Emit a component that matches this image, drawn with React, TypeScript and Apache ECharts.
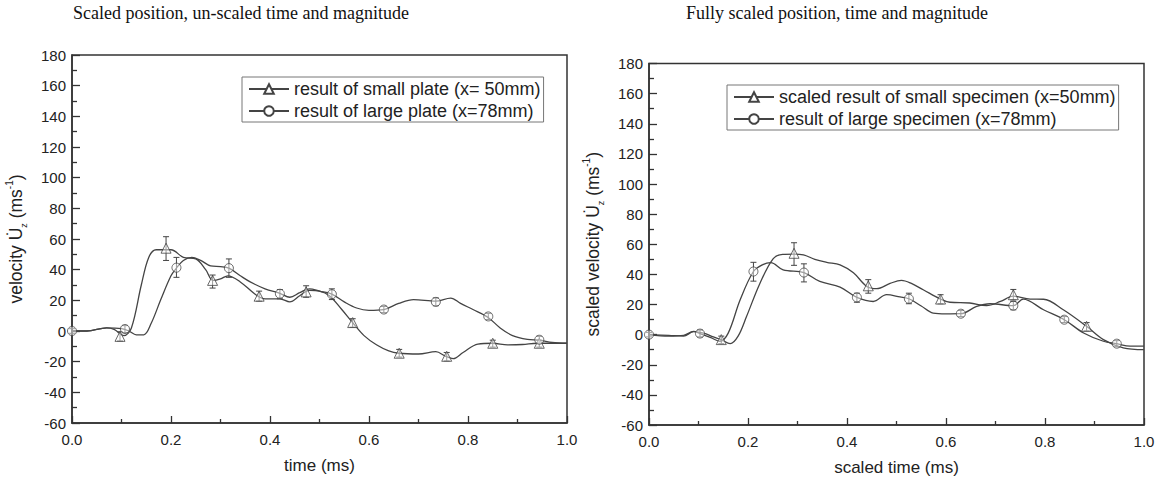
import React, { useEffect, useRef } from "react";
import * as echarts from "echarts";

// ---------- data ----------
const xTicks = [0, 0.2, 0.4, 0.6, 0.8, 1.0];
const yMin = -60;
const yMax = 180;

const leftTitle = "Scaled position, un-scaled time and magnitude";
const rightTitle = "Fully scaled position, time and magnitude";

const leftSmallName = "result of small plate (x= 50mm)";
const leftLargeName = "result of large plate (x=78mm)";
const rightSmallName = "scaled result of small specimen (x=50mm)";
const rightLargeName = "result of large specimen (x=78mm)";

// left plot, curves [time, velocity]
const leftSmallCurve: number[][] = [
  [0, 0], [0.03, 0], [0.07, 2], [0.085, 1], [0.105, -3], [0.12, 2], [0.14, 30],
  [0.155, 48], [0.17, 53], [0.2, 53], [0.225, 48], [0.25, 47], [0.27, 40],
  [0.285, 33], [0.3, 34], [0.315, 36], [0.34, 32], [0.37, 24], [0.39, 21],
  [0.42, 21], [0.44, 19], [0.46, 23], [0.48, 26.5], [0.5, 26], [0.52, 23],
  [0.545, 14], [0.567, 5.5], [0.59, -3], [0.615, -9], [0.64, -13], [0.66, -14.5],
  [0.7, -15], [0.735, -13.5], [0.755, -16.5], [0.77, -18], [0.79, -14],
  [0.82, -8.5], [0.85, -8], [0.88, -9], [0.91, -8.8], [0.94, -8], [1.0, -8],
];
const leftLargeCurve: number[][] = [
  [0, 0], [0.03, 0], [0.07, 2], [0.1, 1.5], [0.115, 0], [0.13, -2.5], [0.145, -2.5],
  [0.16, 5], [0.18, 21], [0.2, 36], [0.211, 41], [0.225, 46], [0.242, 48],
  [0.26, 46], [0.28, 42.5], [0.3, 42], [0.317, 41], [0.34, 36], [0.36, 32],
  [0.39, 27.5], [0.42, 24.5], [0.44, 22], [0.46, 25], [0.48, 27.5], [0.5, 26],
  [0.525, 24], [0.55, 19], [0.575, 15], [0.6, 13.5], [0.63, 14], [0.66, 18],
  [0.69, 20.5], [0.735, 19.5], [0.765, 21.5], [0.785, 18], [0.81, 14],
  [0.84, 9], [0.865, 2], [0.89, -3], [0.92, -5.5], [0.945, -6], [0.97, -7.5], [1.0, -8],
];
// markers [time, value, low, high]
const leftSmallMarks: number[][] = [
  [0.097, -3.5, -6.5, -0.5], [0.19, 54, 46, 61.5], [0.284, 33, 28, 36.5],
  [0.378, 22.7, 19.5, 26], [0.473, 25.5, 22, 29.5], [0.567, 5.5, 2.5, 8],
  [0.661, -14.5, -17, -12], [0.757, -16.5, -19.5, -14], [0.85, -8, -10.5, -6],
  [0.944, -8, -10.5, -6],
];
const leftLargeMarks: number[][] = [
  [0.0, 0, -1.5, 1.5], [0.107, 1.3, -1, 3.5], [0.211, 41.3, 35, 48],
  [0.317, 41, 35, 47], [0.42, 24.3, 21, 27], [0.525, 24, 20.5, 27.5],
  [0.63, 14, 12, 16], [0.735, 19, 16.5, 21.5], [0.841, 9.5, 7.5, 11.5],
  [0.944, -5.7, -8, -3.5],
];

// right plot
const rightSmallCurve: number[][] = [
  [0, 0], [0.04, -0.5], [0.07, -1], [0.09, 2], [0.11, 1], [0.13, -1.5],
  [0.146, -3.3], [0.164, -6], [0.18, -1], [0.197, 12], [0.224, 34], [0.251, 50.5],
  [0.27, 53.3], [0.293, 53.5], [0.312, 53], [0.335, 50], [0.359, 48], [0.386, 46.3],
  [0.413, 41], [0.44, 32], [0.46, 30.5], [0.487, 34], [0.51, 36], [0.53, 34],
  [0.554, 29.8], [0.589, 23.6], [0.608, 21.5], [0.648, 21], [0.682, 19.2],
  [0.71, 22], [0.736, 25.5], [0.77, 23.6], [0.797, 23.5], [0.837, 16.5],
  [0.884, 5.5], [0.918, -3.3], [0.958, -8.8], [1.0, -10],
];
const rightLargeCurve: number[][] = [
  [0, 0], [0.04, -1], [0.07, -0.5], [0.09, 2.2], [0.103, 0.7], [0.125, -2],
  [0.143, -4.4], [0.16, 1], [0.184, 23], [0.211, 41.9], [0.23, 46.5], [0.246, 47.8],
  [0.271, 43], [0.313, 41.2], [0.345, 35.3], [0.386, 31.5], [0.42, 24.7],
  [0.453, 22], [0.48, 26.5], [0.507, 25], [0.525, 23.8], [0.55, 19], [0.574, 14.3],
  [0.6, 13.8], [0.63, 13.9], [0.662, 18.7], [0.689, 20.5], [0.736, 19.2],
  [0.756, 23.6], [0.797, 16.5], [0.839, 9.9], [0.878, 1.1], [0.918, -4.4],
  [0.945, -6], [0.972, -7.7], [1.0, -7.7],
];
const rightSmallMarks: number[][] = [
  [0.146, -3.3, -6, -1], [0.293, 54, 46, 61], [0.443, 32.4, 27.5, 36.5],
  [0.589, 23.6, 20.5, 26.5], [0.736, 26.5, 23, 30], [0.884, 5.5, 2.5, 8],
];
const rightLargeMarks: number[][] = [
  [0.0, 0, -1.5, 1.5], [0.103, 0.7, -1.5, 3], [0.211, 41.9, 35.5, 48],
  [0.313, 41.2, 35, 47], [0.42, 24.7, 21.5, 27.5], [0.525, 23.8, 20.5, 27.5],
  [0.63, 13.9, 12, 16], [0.736, 19.2, 16.5, 22], [0.839, 9.9, 8, 12],
  [0.945, -6, -8, -4],
];

// ---------- styles ----------
const SANS = "'Liberation Sans', Arial, sans-serif";
const SERIF = "'Liberation Serif', 'Times New Roman', serif";
const AX = "#333";
const LINE = "#444";
const TXT = "#222";

function errorRender(params: any, api: any) {
  const x = api.value(0);
  const lo = api.value(2);
  const hi = api.value(3);
  const a = api.coord([x, lo]);
  const b = api.coord([x, hi]);
  const w = 3;
  const st = { stroke: LINE, lineWidth: 1 };
  return {
    type: "group",
    children: [
      { type: "line", shape: { x1: a[0], y1: a[1], x2: b[0], y2: b[1] }, style: st },
      { type: "line", shape: { x1: a[0] - w, y1: a[1], x2: a[0] + w, y2: a[1] }, style: st },
      { type: "line", shape: { x1: b[0] - w, y1: b[1], x2: b[0] + w, y2: b[1] }, style: st },
    ],
  };
}

function xAxisFor(idx: number, name: string) {
  return {
    type: "value",
    gridIndex: idx,
    min: 0,
    max: 1,
    interval: 0.2,
    name,
    nameLocation: "middle",
    nameGap: 34,
    nameTextStyle: { fontSize: 17, fontFamily: SANS, color: TXT },
    axisLine: { show: true, onZero: false, lineStyle: { color: AX, width: 1.5 } },
    axisTick: { show: true, inside: true, length: 7, lineStyle: { color: AX, width: 1.3 } },
    minorTick: { show: true, splitNumber: 2, length: 4, lineStyle: { color: AX, width: 1.3 } },
    splitLine: { show: false },
    axisLabel: {
      margin: 9,
      fontSize: 15,
      fontFamily: SANS,
      color: TXT,
      formatter: (v: number) => (xTicks.some((t) => Math.abs(t - v) < 1e-9) ? v.toFixed(1) : ""),
    },
  };
}

function yAxisFor(idx: number, prefix: string) {
  return {
    type: "value",
    gridIndex: idx,
    min: yMin,
    max: yMax,
    interval: 20,
    name: prefix + "{u|U\u0307}{sub|z} (ms{sup|-1})",
    nameLocation: "middle",
    nameRotate: 90,
    nameGap: 44,
    nameTextStyle: {
      fontSize: 17.5,
      fontFamily: SANS,
      color: TXT,
      lineHeight: 24,
      rich: {
        u: { fontSize: 17.5, fontFamily: SANS, color: TXT, lineHeight: 24 },
        sub: { fontSize: 9, fontFamily: SANS, color: TXT, lineHeight: 24, verticalAlign: "bottom" },
        sup: { fontSize: 10, fontFamily: SANS, color: TXT, lineHeight: 24, verticalAlign: "top" },
      },
    },
    axisLine: { show: true, onZero: false, lineStyle: { color: AX, width: 1.5 } },
    axisTick: { show: true, inside: true, length: 8, lineStyle: { color: AX, width: 1.3 } },
    minorTick: { show: true, splitNumber: 2, length: 5, lineStyle: { color: AX, width: 1.3 } },
    splitLine: { show: false },
    axisLabel: { margin: 6, fontSize: 15, fontFamily: SANS, color: TXT },
  };
}

function curveSeries(name: string, data: number[][], idx: number, symbol: string) {
  return {
    type: "line",
    name,
    xAxisIndex: idx,
    yAxisIndex: idx,
    data,
    smooth: 0.35,
    symbol,
    symbolSize: 9,
    showSymbol: false,
    lineStyle: { color: LINE, width: 1.3 },
    itemStyle: { color: "#fff", borderColor: LINE, borderWidth: 1 },
    z: 2,
  };
}

function errSeries(data: number[][], idx: number) {
  return {
    type: "custom",
    xAxisIndex: idx,
    yAxisIndex: idx,
    data,
    encode: { x: 0, y: 1 },
    renderItem: errorRender,
    z: 3,
    silent: true,
  };
}

function markSeries(data: number[][], idx: number, symbol: string) {
  return {
    type: "scatter",
    xAxisIndex: idx,
    yAxisIndex: idx,
    data: data.map((d) => [d[0], d[1]]),
    symbol,
    symbolSize: symbol === "triangle" ? 10 : 9,
    itemStyle: { color: "rgba(255,255,255,0.6)", borderColor: LINE, borderWidth: 1 },
    z: 4,
    silent: true,
  };
}

function legendFor(left: number, top: number, names: string[]) {
  return {
    orient: "vertical",
    left,
    top,
    data: names,
    itemWidth: 40,
    itemHeight: 12,
    itemGap: 4,
    padding: [3, 3, 2, 6],
    borderColor: "#777",
    borderWidth: 1,
    borderRadius: 0,
    textStyle: { fontSize: 18, fontFamily: SANS, color: TXT },
    selectedMode: false,
  };
}

export default function App() {
  const ref = useRef<HTMLDivElement>(null);
  useEffect(() => {
    if (!ref.current) return;
    const chart = echarts.init(ref.current, undefined, { renderer: "svg" });
    chart.setOption({
      animation: false,
      backgroundColor: "#fff",
      title: [
        { text: leftTitle, left: 68, top: -1, textStyle: { fontFamily: SERIF, fontSize: 18, fontWeight: "normal", color: "#111" } },
        { text: rightTitle, left: 681, top: -1, textStyle: { fontFamily: SERIF, fontSize: 18, fontWeight: "normal", color: "#111" } },
      ],
      legend: [
        legendFor(242, 77, [leftSmallName, leftLargeName]),
        legendFor(727, 85, [rightSmallName, rightLargeName]),
      ],
      grid: [
        { left: 72, top: 55, width: 495, height: 368, show: true, borderColor: AX, borderWidth: 1.5, backgroundColor: "transparent" },
        { left: 649, top: 63.5, width: 495, height: 361.5, show: true, borderColor: AX, borderWidth: 1.5, backgroundColor: "transparent" },
      ],
      xAxis: [xAxisFor(0, "time (ms)"), xAxisFor(1, "scaled time (ms)")],
      yAxis: [yAxisFor(0, "velocity "), yAxisFor(1, "scaled velocity ")],
      series: [
        curveSeries(leftSmallName, leftSmallCurve, 0, "triangle"),
        curveSeries(leftLargeName, leftLargeCurve, 0, "circle"),
        errSeries(leftSmallMarks, 0),
        errSeries(leftLargeMarks, 0),
        markSeries(leftSmallMarks, 0, "triangle"),
        markSeries(leftLargeMarks, 0, "circle"),
        curveSeries(rightSmallName, rightSmallCurve, 1, "triangle"),
        curveSeries(rightLargeName, rightLargeCurve, 1, "circle"),
        errSeries(rightSmallMarks, 1),
        errSeries(rightLargeMarks, 1),
        markSeries(rightSmallMarks, 1, "triangle"),
        markSeries(rightLargeMarks, 1, "circle"),
      ],
    });
    return () => chart.dispose();
  }, []);
  return (
    <div
      ref={ref}
      style={{ position: "absolute", left: 0, top: 0, width: 1161, height: 482, background: "#fff" }}
    />
  );
}
